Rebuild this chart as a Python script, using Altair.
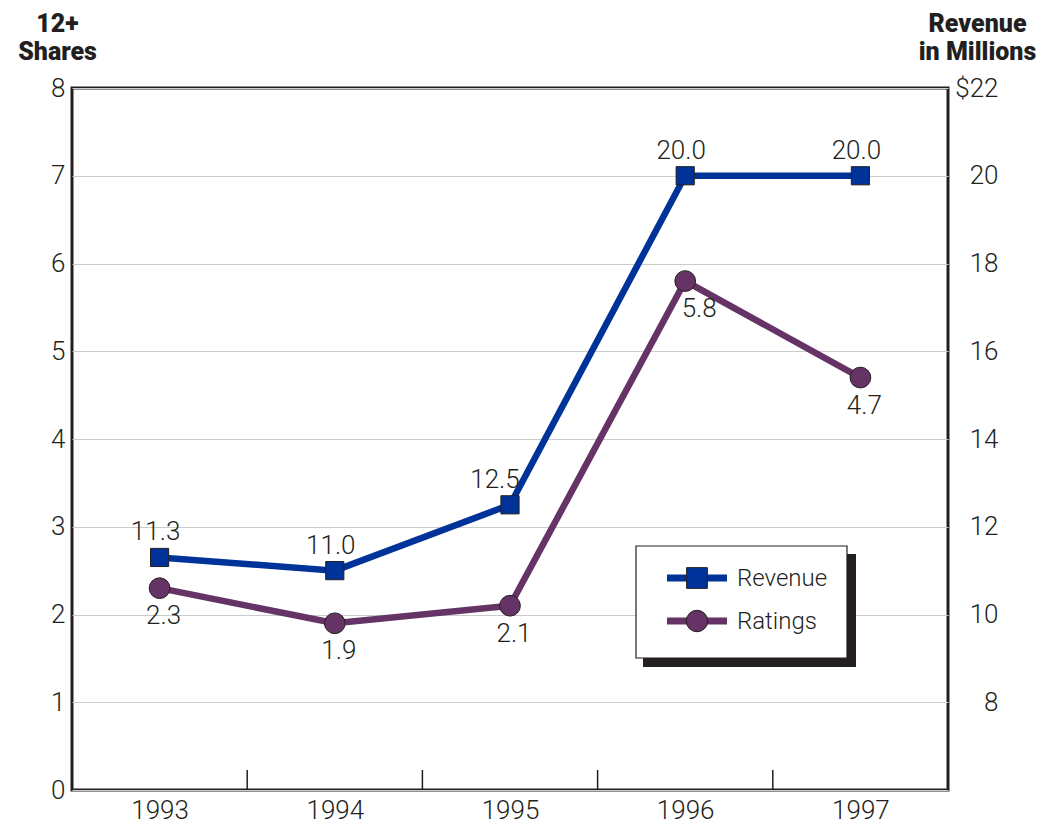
import altair as alt
import pandas as pd

# ---- data -------------------------------------------------------------
years = [1993, 1994, 1995, 1996, 1997]
revenue = [11.3, 11.0, 12.5, 20.0, 20.0]          # $ millions (right axis)
ratings = [2.3, 1.9, 2.1, 5.8, 4.7]               # 12+ shares (left axis)
share_ticks = [0, 1, 2, 3, 4, 5, 6, 7, 8]
revenue_ticks = [8, 10, 12, 14, 16, 18, 20, 22]
year_bounds = [1993.5, 1994.5, 1995.5, 1996.5]
legend_names = ["Revenue", "Ratings"]

# ---- style --------------------------------------------------------------
BLUE = "#003399"
PURPLE = "#663366"
INK = "#231f20"
GRID = "#cccccc"
FONT = "Roboto, 'Liberation Sans', sans-serif"
LIGHT = 300
TITLE_FONT = "Roboto, 'Liberation Sans', sans-serif"
TITLE_WEIGHT = 900
FS = 26
W, H = 876, 702

rev_df = pd.DataFrame({"year": years, "revenue": revenue})
rat_df = pd.DataFrame({"year": years, "share": ratings})
bound_df = pd.DataFrame({"bound": year_bounds})

x_scale = alt.Scale(domain=[1992.5, 1997.5], nice=False, zero=False)
x_axis = alt.Axis(values=years, format="d", grid=False, ticks=False, domain=False,
                  labelFontSize=FS, labelColor=INK, labelPadding=7, labelFont=FONT,
                  labelFontWeight=LIGHT)

left_axis = alt.Axis(values=share_ticks, grid=True, gridColor=GRID, gridWidth=1,
                     ticks=False, domain=False, labelFontSize=FS, labelColor=INK,
                     labelPadding=7, labelFont=FONT, labelFontWeight=LIGHT, zindex=0,
                     title=["12+", "Shares"], titleAngle=0, titleAlign="center",
                     titleBaseline="alphabetic", titleX=-15, titleY=-57,
                     titleFontSize=25, titleFontWeight=TITLE_WEIGHT, titleColor=INK,
                     titleFont=TITLE_FONT, titleLineHeight=28)
left_y = alt.Scale(domain=[0, 8], nice=False, zero=False)

right_axis = alt.Axis(orient="right", values=revenue_ticks, grid=False, ticks=False,
                      tickSize=0, domain=False, labelFontSize=FS, labelColor=INK,
                      labelFont=FONT, labelFontWeight=LIGHT, labelAlign="right",
                      labelPadding=50,
                      labelExpr="datum.value == 22 ? '$22' : datum.label",
                      title=["Revenue", "in Millions"], titleAngle=0,
                      titleAlign="center", titleBaseline="alphabetic",
                      titleX=29, titleY=-57, titleFontSize=25,
                      titleFontWeight=TITLE_WEIGHT, titleColor=INK,
                      titleFont=TITLE_FONT, titleLineHeight=28)
right_y = alt.Scale(domain=[6, 22], nice=False, zero=False)


def X(field):
    return alt.X(field, type="quantitative", scale=x_scale, axis=x_axis, title=None)


def value_text(base, field, **kw):
    return base.mark_text(fontSize=FS, font=FONT, fontWeight=LIGHT, color=INK, **kw).encode(
        text=alt.Text(field, type="quantitative", format=".1f"))


# ---- ratings (left scale) -----------------------------------------------
rat_base = alt.Chart(rat_df).encode(
    x=X("year"),
    y=alt.Y("share:Q", scale=left_y, axis=left_axis),
)
rat_line = rat_base.mark_line(color=PURPLE, strokeWidth=6.5)
rat_pts = rat_base.mark_point(shape="circle", filled=True, size=430, fill=PURPLE,
                              stroke=INK, strokeWidth=1, opacity=1)
rat_txt = value_text(rat_base, "share", baseline="top", dy=15, dx=4).transform_filter(
    "datum.year != 1996")
rat_txt_1996 = value_text(rat_base, "share", baseline="top", dy=15, dx=14).transform_filter(
    "datum.year == 1996")

# tick marks between the years, rising from the bottom frame
year_ticks = alt.Chart(bound_df).mark_rule(color=INK, strokeWidth=1.5).encode(
    x=X("bound"),
    y=alt.value(H - 20),
    y2=alt.value(H),
)

left_layer = alt.layer(rat_line, rat_pts, rat_txt, rat_txt_1996)

# ---- revenue (right scale) ----------------------------------------------
rev_base = alt.Chart(rev_df).encode(
    x=X("year"),
    y=alt.Y("revenue:Q", scale=right_y, axis=right_axis),
)
rev_line = rev_base.mark_line(color=BLUE, strokeWidth=6.5)
rev_pts = rev_base.mark_point(shape="square", filled=True, size=330, fill=BLUE,
                              stroke=INK, strokeWidth=1, opacity=1)
rev_txt = value_text(rev_base, "revenue", baseline="alphabetic", dy=-17, dx=-4).transform_filter(
    "datum.year != 1995")
rev_txt_1995 = value_text(rev_base, "revenue", baseline="alphabetic", dy=-17, dx=-15).transform_filter(
    "datum.year == 1995")

right_layer = alt.layer(rev_line, rev_pts, rev_txt, rev_txt_1995)

# ---- boxed legend with drop shadow ----------------------------------------
leg_df = pd.DataFrame({"name": legend_names})
shadow = alt.Chart(leg_df.head(1)).mark_rect(fill=INK).encode(
    x=alt.value(571), x2=alt.value(784), y=alt.value(466), y2=alt.value(579))
box = alt.Chart(leg_df.head(1)).mark_rect(fill="white", stroke=INK, strokeWidth=1.2).encode(
    x=alt.value(564), x2=alt.value(775), y=alt.value(458), y2=alt.value(570))


def legend_entry(name, color, shape, size, ypx):
    src = alt.Chart(pd.DataFrame({"name": [name]}))
    seg = src.mark_rule(color=color, strokeWidth=7).encode(
        x=alt.value(595), x2=alt.value(655), y=alt.value(ypx))
    sym = src.mark_point(shape=shape, filled=True, size=size, fill=color,
                         stroke=INK, strokeWidth=1, opacity=1).encode(
        x=alt.value(625), y=alt.value(ypx))
    lab = src.mark_text(align="left", baseline="middle", fontSize=24, font=FONT,
                        fontWeight=LIGHT, color=INK).encode(
        x=alt.value(665), y=alt.value(ypx + 1), text="name:N")
    return [seg, sym, lab]


legend_layers = ([shadow, box]
                 + legend_entry(legend_names[0], BLUE, "square", 430, 490)
                 + legend_entry(legend_names[1], PURPLE, "circle", 460, 533))

chart = alt.layer(
    left_layer, right_layer, year_ticks, *legend_layers
).resolve_scale(
    y="independent"
).properties(
    width=W,
    height=H,
    autosize=alt.AutoSizeParams(type="none"),
    padding={"left": 72, "top": 88, "right": 1053 - 72 - W, "bottom": 826 - 88 - H},
    background="white",
).configure_view(
    stroke=INK,
    strokeWidth=3,
)

chart.save("out.html", embed_options={"renderer": "svg", "actions": False})
